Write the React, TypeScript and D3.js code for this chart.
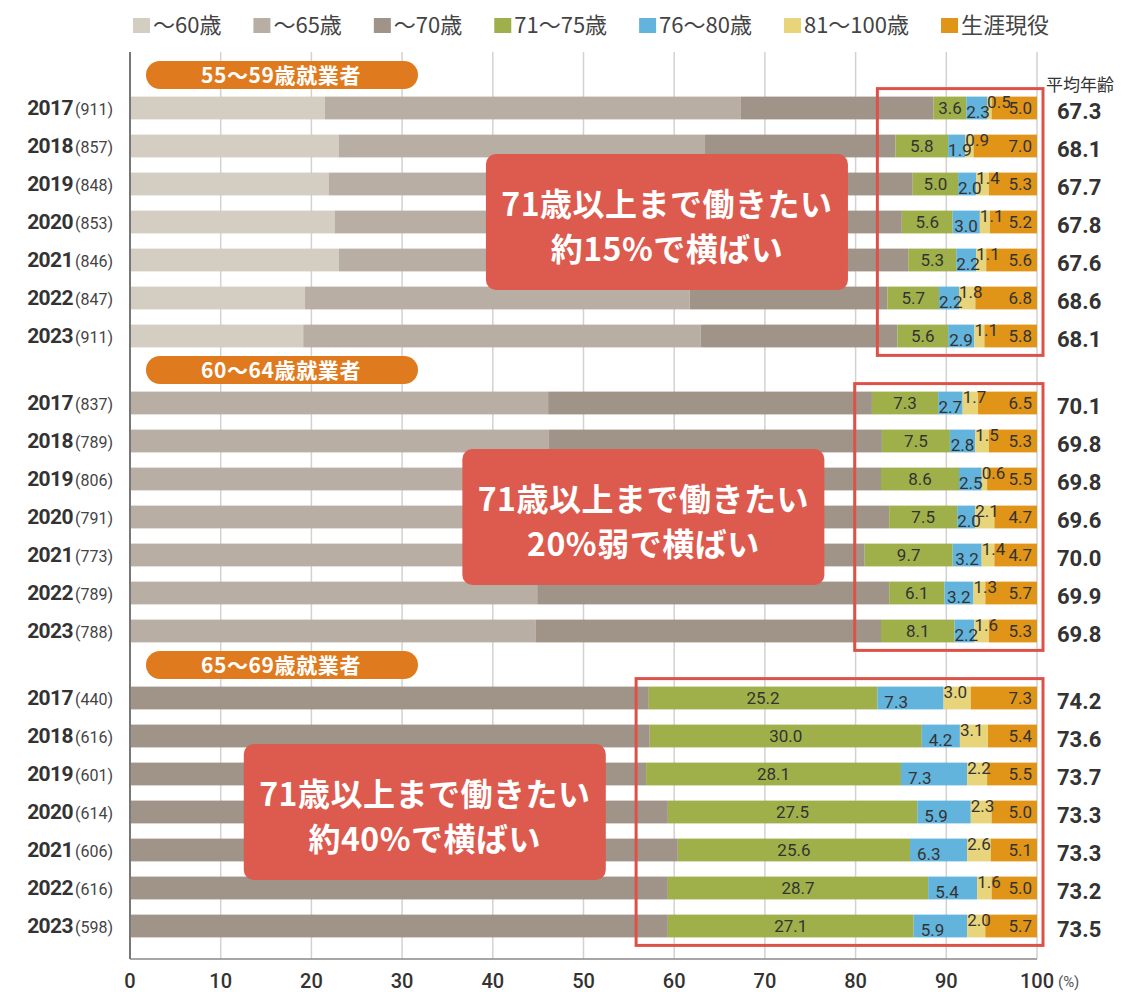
import { useEffect, useRef } from "react";
import * as d3 from "d3";

// ---- data ----
const legendLabels = ["～60歳", "～65歳", "～70歳", "71～75歳", "76～80歳", "81～100歳", "生涯現役"];
const colors = ["#d4cdc1", "#b8aea3", "#a09488", "#9fb04a", "#62b4dc", "#e8d47a", "#e09518"];
const groups = ["55～59歳就業者", "60～64歳就業者", "65～69歳就業者"];
const years = ["2017", "2018", "2019", "2020", "2021", "2022", "2023"];
const sampleSizes = [
  [911, 857, 848, 853, 846, 847, 911],
  [837, 789, 806, 791, 773, 789, 788],
  [440, 616, 601, 614, 606, 616, 598],
];
const meanAge = [
  [67.3, 68.1, 67.7, 67.8, 67.6, 68.6, 68.1],
  [70.1, 69.8, 69.8, 69.6, 70.0, 69.9, 69.8],
  [74.2, 73.6, 73.7, 73.3, 73.3, 73.2, 73.5],
];
const upTo60 = [
  [21.5, 23.0, 21.9, 22.6, 23.0, 19.3, 19.1],
  [0, 0, 0, 0, 0, 0, 0],
  [0, 0, 0, 0, 0, 0, 0],
];
const upTo65 = [
  [45.8, 40.4, 42.1, 40.9, 40.5, 42.4, 43.8],
  [46.1, 46.2, 45.5, 45.0, 45.0, 44.9, 44.7],
  [0, 0, 0, 0, 0, 0, 0],
];
const upTo70 = [
  [21.3, 21.0, 22.3, 21.6, 22.3, 21.8, 21.7],
  [35.7, 36.7, 37.3, 38.7, 36.0, 38.8, 38.1],
  [57.2, 57.3, 56.9, 59.3, 60.4, 59.3, 59.3],
];
const age71to75 = [
  [3.6, 5.8, 5.0, 5.6, 5.3, 5.7, 5.6],
  [7.3, 7.5, 8.6, 7.5, 9.7, 6.1, 8.1],
  [25.2, 30.0, 28.1, 27.5, 25.6, 28.7, 27.1],
];
const age76to80 = [
  [2.3, 1.9, 2.0, 3.0, 2.2, 2.2, 2.9],
  [2.7, 2.8, 2.5, 2.0, 3.2, 3.2, 2.2],
  [7.3, 4.2, 7.3, 5.9, 6.3, 5.4, 5.9],
];
const age81to100 = [
  [0.5, 0.9, 1.4, 1.1, 1.1, 1.8, 1.1],
  [1.7, 1.5, 0.6, 2.1, 1.4, 1.3, 1.6],
  [3.0, 3.1, 2.2, 2.3, 2.6, 1.6, 2.0],
];
const lifelong = [
  [5.0, 7.0, 5.3, 5.2, 5.6, 6.8, 5.8],
  [6.5, 5.3, 5.5, 4.7, 4.7, 5.7, 5.3],
  [7.3, 5.4, 5.5, 5.0, 5.1, 5.0, 5.7],
];
const calloutLine1 = "71歳以上まで働きたい";
const calloutLine2 = ["約15%で横ばい", "20%弱で横ばい", "約40%で横ばい"];
const calloutCenter = [59.2, 56.6, 32.5]; // in % units along x
const xTicks = [0, 10, 20, 30, 40, 50, 60, 70, 80, 90, 100];

const W = 1122;
const H = 992;
const JP = "'Noto Sans CJK JP', 'Noto Sans', sans-serif";
const NUM = "Roboto, 'Noto Sans', sans-serif";

export default function App() {
  const ref = useRef<SVGSVGElement | null>(null);

  useEffect(() => {
    const svg = d3.select(ref.current);
    svg.selectAll("*").remove();

    const keys = legendLabels.map((_, i) => `k${i}`);
    const series = [upTo60, upTo65, upTo70, age71to75, age76to80, age81to100, lifelong];

    const x = d3.scaleLinear().domain([0, 100]).range([130, 1037]);
    const groupH = 295;
    const headerH = 33;
    const gy = d3.scaleBand<string>().domain(groups).range([56, 56 + groupH * groups.length]);
    const yInner = d3
      .scaleBand<string>()
      .domain(years)
      .range([headerH, headerH + 7 * 38])
      .paddingInner(0.4)
      .paddingOuter(0.2);
    const bh = yInner.bandwidth();
    const plotTop = 52;
    const plotBottom = 959;

    /* ---- legend ---- */
    const legend = svg.append("g");
    let lx = 133;
    legendLabels.forEach((lab, i) => {
      legend.append("rect").attr("x", lx).attr("y", 18).attr("width", 17).attr("height", 15).attr("fill", colors[i]);
      const t = legend
        .append("text")
        .attr("x", lx + 20)
        .attr("y", 33)
        .attr("font-family", JP)
        .attr("font-size", 22)
        .attr("fill", "#444")
        .text(lab);
      const w = (t.node() as SVGTextElement).getComputedTextLength();
      lx += 20 + w + 32;
    });

    /* ---- grid ---- */
    svg
      .append("g")
      .selectAll("line")
      .data(xTicks.slice(1))
      .join("line")
      .attr("x1", (d) => x(d))
      .attr("x2", (d) => x(d))
      .attr("y1", plotTop)
      .attr("y2", plotBottom)
      .attr("stroke", "#d2d2d2")
      .attr("stroke-width", 1.5);

    /* ---- group blocks ---- */
    groups.forEach((g, gi) => {
      const top = gy(g)!;
      const rows = years.map((yr, i) => {
        const row: any = { year: yr };
        keys.forEach((k, ki) => (row[k] = series[ki][gi][i]));
        return row;
      });
      const stacked = d3.stack<any>().keys(keys)(rows);
      const block = svg.append("g");

      // pill header
      block
        .append("rect")
        .attr("x", 146)
        .attr("y", top + 5)
        .attr("width", 272)
        .attr("height", 28)
        .attr("rx", 14)
        .attr("fill", "#df7a1e");
      block
        .append("text")
        .attr("x", 281)
        .attr("y", top + 19)
        .attr("dy", "0.36em")
        .attr("text-anchor", "middle")
        .attr("font-family", JP)
        .attr("font-weight", 700)
        .attr("font-size", 21)
        .attr("letter-spacing", 0.6)
        .attr("fill", "#fff")
        .text(g);

      // bars
      stacked.forEach((s, ki) => {
        block
          .append("g")
          .selectAll("rect")
          .data(s)
          .join("rect")
          .attr("x", (d) => x(d[0]))
          .attr("width", (d) => Math.max(0, x(d[1]) - x(d[0])))
          .attr("y", (d) => top + yInner(d.data.year)!)
          .attr("height", bh)
          .attr("fill", colors[ki]);
      });

      // segment labels
      const lab = block.append("g").attr("font-family", NUM).attr("font-size", 17).attr("fill", "#333");
      stacked.slice(3).forEach((s, j) => {
        const ki = j + 3;
        s.forEach((d) => {
          const by = top + yInner(d.data.year)!;
          const x0 = x(d[0]);
          const x1 = x(d[1]);
          const v = d3.format(".1f")(d[1] - d[0]);
          const t = lab.append("text").text(v);
          if (ki === 3) {
            t.attr("x", (x0 + x1) / 2).attr("y", by + bh / 2 + 6).attr("text-anchor", "middle");
          } else if (ki === 4) {
            const off = Math.max(0, Math.min(7, (x1 - x0 - 24) / 2));
            t.attr("x", x0 + off).attr("y", by + bh - 1);
          } else if (ki === 5) {
            t.attr("x", x0).attr("y", by + 11);
          } else {
            t.attr("x", x(100) - 5).attr("y", by + bh / 2 + 6).attr("text-anchor", "end");
          }
        });
      });

      // year labels
      years.forEach((yr, i) => {
        const cy = top + yInner(yr)! + bh / 2;
        const t = block
          .append("text")
          .attr("x", 113)
          .attr("y", cy + 7)
          .attr("text-anchor", "end")
          .attr("fill", "#333");
        t.append("tspan")
          .attr("font-family", NUM)
          .attr("font-weight", 700)
          .attr("font-size", 21)
          .attr("letter-spacing", -0.6)
          .text(yr);
        t.append("tspan")
          .attr("font-family", NUM)
          .attr("font-size", 16)
          .attr("fill", "#444")
          .attr("dx", 2)
          .text(`(${sampleSizes[gi][i]})`);

        block
          .append("text")
          .attr("x", 1057)
          .attr("y", cy + 11)
          .attr("font-family", NUM)
          .attr("font-weight", 700)
          .attr("font-size", 22)
          .attr("fill", "#333")
          .text(d3.format(".1f")(meanAge[gi][i]));
      });

      // red outline around 71+ segments
      const minStart = d3.min(stacked[3], (d) => d[0])!;
      const firstTop = top + yInner(years[0])!;
      const lastBottom = top + yInner(years[years.length - 1])! + bh;
      block
        .append("rect")
        .attr("x", x(minStart - 1.1))
        .attr("y", firstTop - 8)
        .attr("width", x(100) + 6 - x(minStart - 1.1))
        .attr("height", lastBottom + 8 - (firstTop - 8))
        .attr("fill", "none")
        .attr("stroke", "#dd5248")
        .attr("stroke-width", 3);
    });

    /* ---- axes ---- */
    svg
      .append("line")
      .attr("x1", x(0))
      .attr("x2", x(0))
      .attr("y1", plotTop)
      .attr("y2", plotBottom)
      .attr("stroke", "#777")
      .attr("stroke-width", 2);
    svg
      .append("line")
      .attr("x1", x(0))
      .attr("x2", x(100))
      .attr("y1", plotBottom)
      .attr("y2", plotBottom)
      .attr("stroke", "#888")
      .attr("stroke-width", 1.5);
    svg
      .append("g")
      .selectAll("text")
      .data(xTicks)
      .join("text")
      .attr("x", (d) => x(d))
      .attr("y", 988)
      .attr("text-anchor", "middle")
      .attr("font-family", NUM)
      .attr("font-weight", 500)
      .attr("font-size", 20)
      .attr("fill", "#333")
      .text((d) => d);
    svg
      .append("text")
      .attr("x", 1058)
      .attr("y", 987)
      .attr("font-family", NUM)
      .attr("font-size", 15)
      .attr("fill", "#555")
      .text("(%)");
    svg
      .append("text")
      .attr("x", 1046)
      .attr("y", 91)
      .attr("font-family", JP)
      .attr("font-size", 17)
      .attr("fill", "#333")
      .text("平均年齢");

    /* ---- callouts ---- */
    groups.forEach((g, gi) => {
      const top = gy(g)! + 98;
      const cx = x(calloutCenter[gi]);
      const c = svg.append("g");
      c.append("rect")
        .attr("x", cx - 181)
        .attr("y", top)
        .attr("width", 362)
        .attr("height", 136)
        .attr("rx", 10)
        .attr("fill", "#dd5a4e");
      [calloutLine1, calloutLine2[gi]].forEach((line, li) => {
        c.append("text")
          .attr("x", cx)
          .attr("y", top + (li === 0 ? 50 : 95))
          .attr("dy", "0.36em")
          .attr("text-anchor", "middle")
          .attr("font-family", JP)
          .attr("font-weight", 700)
          .attr("font-size", 32)
          .attr("letter-spacing", 0.5)
          .attr("fill", "#fff")
          .text(line);
      });
    });
  }, []);

  return (
    <svg
      ref={ref}
      width={W}
      height={H}
      viewBox={`0 0 ${W} ${H}`}
      style={{ position: "absolute", left: 0, top: 0, background: "#fff", display: "block" }}
    />
  );
}
